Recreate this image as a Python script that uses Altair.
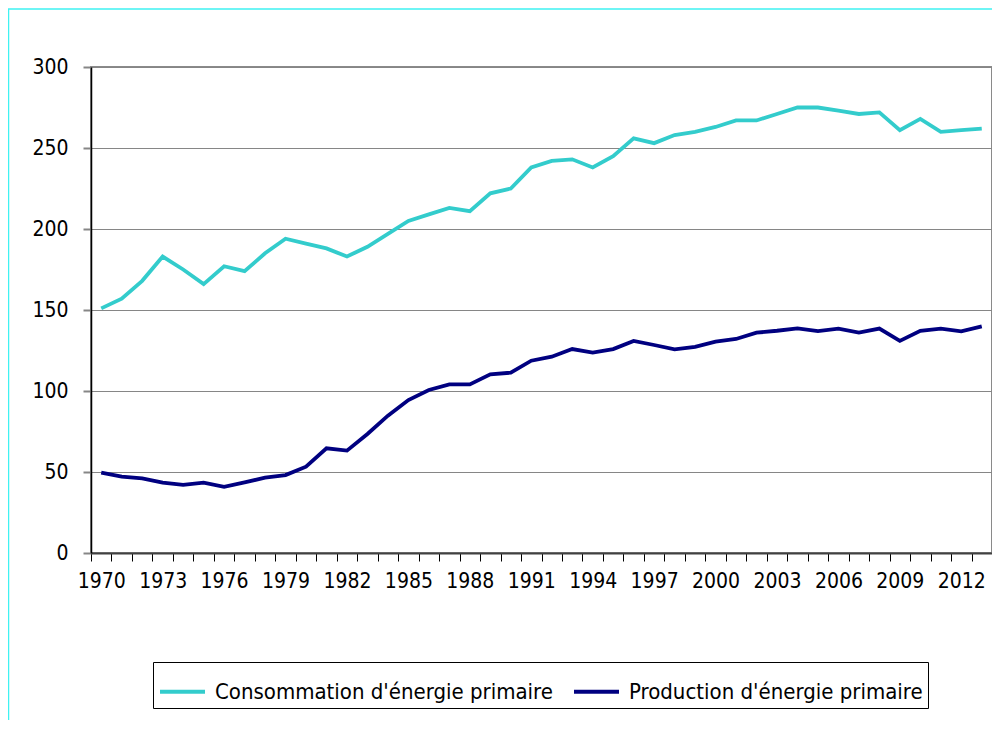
import altair as alt
import pandas as pd

years = list(range(1970, 2014))
consommation = [151, 157, 168, 183, 175, 166, 177, 174, 185, 194,
                191, 188, 183, 189, 197, 205, 209, 213, 211, 222,
                225, 238, 242, 243, 238, 245, 256, 253, 258, 260,
                263, 267, 267, 271, 275, 275, 273, 271, 272, 261,
                268, 260, 261, 262]
production = [49.6, 47.1, 46.1, 43.4, 42.0, 43.4, 40.9, 43.6, 46.5, 48.1,
              53.3, 64.6, 63.2, 73.5, 84.8, 94.4, 100.6, 104.1, 104.1, 110.3,
              111.3, 118.7, 121.2, 125.9, 123.7, 125.9, 130.9, 128.4, 125.7, 127.3,
              130.5, 132.1, 136.0, 137.2, 138.7, 137.0, 138.5, 136.0, 138.5, 130.9,
              137.2, 138.5, 136.8, 139.9]
series_names = ["Consommation d'énergie primaire", "Production d'énergie primaire"]
series_colors = ["#33CCCC", "#000080"]
y_ticks = [0, 50, 100, 150, 200, 250, 300]

rows = []
for name, vals in zip(series_names, [consommation, production]):
    for yr, v in zip(years, vals):
        rows.append({"Année": yr, "Valeur": v, "Série": name})
df = pd.DataFrame(rows)

W, H = 901, 486
band = W / len(years)
x_tick_values = [y - 0.5 for y in years] + [years[-1] + 0.5]

FONT = "DejaVu Sans Condensed, Liberation Sans, sans-serif"

x_scale = alt.Scale(domain=[years[0] - 0.5, years[-1] + 0.5], nice=False, zero=False)

lines = alt.Chart(df).mark_line(strokeWidth=3.8, clip=True).encode(
    x=alt.X("Année:Q", scale=x_scale,
            axis=alt.Axis(values=x_tick_values, title=None,
                          labelExpr="((datum.value + 0.5 - 1970) % 3 == 0 && datum.value < 2013) ? format(datum.value + 0.5, 'd') : ''",
                          labelOffset=band / 2, labelOverlap=False, labelFlush=False, labelBound=False,
                          labelFont=FONT, labelFontSize=21, labelColor="#000000",
                          labelPadding=9, tickSize=8, tickColor="#000000", tickWidth=1,
                          domainColor="#404040", domainWidth=2, grid=False)),
    y=alt.Y("Valeur:Q", scale=alt.Scale(domain=[0, 300], nice=False),
            axis=alt.Axis(values=y_ticks, title=None, grid=True, gridColor="#868686", gridWidth=1,
                          labelFont=FONT, labelFontSize=21, labelColor="#000000",
                          labelPadding=15, tickSize=8, tickColor="#868686", tickWidth=2,
                          domainColor="#000000", domainWidth=1.5)),
    color=alt.Color("Série:N", scale=alt.Scale(domain=series_names, range=series_colors),
                    sort=series_names,
                    legend=alt.Legend(title=None, orient="none", direction="horizontal",
                                      legendX=62, legendY=595,
                                      symbolType="stroke", symbolSize=2025, symbolStrokeWidth=4,
                                      labelFont=FONT, labelFontSize=22, labelColor="#000000",
                                      labelOffset=8, columnPadding=13, padding=5,
                                      strokeColor="#000000", fillColor="#ffffff",
                                      labelLimit=500)),
)

frame = alt.Chart(pd.DataFrame({"a": [0]})).mark_rect(
    fill=None, stroke="#3FF2F2", strokeWidth=1.5, clip=False
).encode(
    x=alt.value(-82.5), x2=alt.value(W + 100),
    y=alt.value(-58), y2=alt.value(H + 300),
)

chart = alt.layer(lines, frame).properties(
    width=W, height=H,
    autosize=alt.AutoSizeParams(type="none"),
    padding={"left": 83, "top": 59, "right": 0, "bottom": 167},
    background="#ffffff",
).configure_view(stroke="#8a8a8a", strokeWidth=2)

chart.save("out.html", embed_options={"renderer": "svg", "actions": False})
